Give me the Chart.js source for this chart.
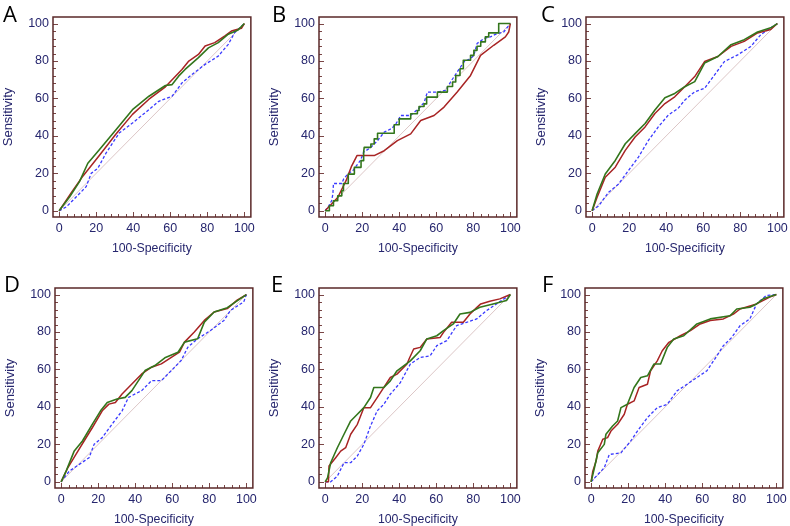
<!DOCTYPE html>
<html>
<head>
<meta charset="utf-8">
<script src="https://cdn.jsdelivr.net/npm/chart.js@4.4.1/dist/chart.umd.min.js"></script>
<style>
  body { margin: 0; background: #fff; width: 790px; height: 526px; overflow: hidden; position: relative; }
  canvas { position: absolute; }
  .lab { position: absolute; font-family: "Open Sans", sans-serif; font-size: 22px; line-height: 22px; color: #000; }
</style>
</head>
<body>
<script>
// tick labels shared by every panel
var tickValues = [0, 20, 40, 60, 80, 100];
var diagonal = [[0, 0], [100, 100]];

// panel A
var aGreen = [[0,0],[5.7,7.5],[11,15.6],[15.5,25.4],[21.7,32.6],[30.7,43.3],[39.6,54],[48.5,61.2],[57.4,66.9],[61,67.4],[64.5,71.9],[68,75.5],[75.2,81.8],[80.6,87],[85.9,89.8],[91.3,94.3],[96.6,96.6],[100,100]];
var aRed = [[0,0],[6.5,9.5],[12.8,18.5],[21.7,29.5],[30.7,41],[39.6,51.5],[48.5,59.6],[57.4,66.2],[66.3,75.5],[70,80],[75.2,83.5],[78.8,88],[84,89.8],[89.5,93.4],[93,96],[98.4,97.5],[100,100]];
var aBlue = [[0,0],[3.9,2.1],[9.3,7.5],[14.6,12.9],[17.3,20],[20.9,22.7],[25.3,30.8],[32.4,41.5],[39.6,46.9],[48.5,54],[53.8,58.5],[61,61.2],[66.3,68.3],[71.7,72.8],[78.8,78.2],[85.9,82.6],[91.3,88.9],[94.8,95.2],[100,100]];

// panel B
var bGreen = [[0,0],[2.3,0],[2.3,2.7],[4.5,2.7],[4.5,5.4],[6.8,5.4],[6.8,8],[9,8],[9,10.7],[9.9,10.7],[9.9,14.6],[12.5,14.6],[12.5,19.6],[15.8,19.6],[15.8,23.2],[19.4,23.2],[19.4,26.8],[20.8,26.8],[20.8,31.3],[21.1,33.9],[24.7,33.9],[24.7,35.7],[26.5,35.7],[26.5,38.4],[28.3,38.4],[28.3,41.4],[37.3,41.4],[37.3,46],[40,46],[40,49.1],[46.2,49.1],[46.2,51.8],[49.8,51.8],[49.8,53.6],[50.7,53.6],[50.7,55.7],[53.4,55.7],[53.4,57.1],[54.8,57.1],[54.8,60.7],[60.6,60.7],[60.6,63.4],[66,63.4],[66,66.4],[68.8,66.4],[68.8,68.8],[70.5,68.8],[70.5,72.3],[72.8,72.3],[72.8,75.9],[74.6,75.9],[74.6,80.4],[78.5,80.4],[78.5,83],[80.3,83],[80.3,85.7],[82,85.7],[82,87.9],[84,87.9],[84,90.2],[86.5,90.2],[86.5,92.9],[88.3,92.9],[88.3,95],[93.7,95],[93.7,100],[100,100]];
var bRed = [[0,0],[6.8,7.1],[11.3,16.1],[14.3,23.9],[17.2,29.5],[26.5,29.5],[31.9,32.1],[39,37.5],[46.2,41.1],[51.6,48.2],[58.8,50.9],[64.2,55.4],[71.3,63.4],[78.5,72.3],[83.9,83],[91,88.4],[97.3,92.9],[99.1,95.5],[100,100]];
var bBlue = [[0,0],[2,2.7],[3.5,5.4],[4.2,9],[4.5,14.6],[9,14.6],[10,17],[12.2,19.6],[15,21.5],[17.6,25],[19,26.8],[20.8,31.3],[24.7,33.9],[28.3,37.5],[31.9,42],[36,44],[38.2,46.4],[40.9,50.9],[46.2,50.9],[48,52.5],[51.6,55.7],[53.5,58],[55.2,63.4],[60.6,63.4],[65.1,64.3],[67.7,68.8],[71.3,74.1],[74.9,79.5],[78.5,81.3],[80.3,83],[82,89.3],[85.7,92],[89.2,92.9],[92.8,94.6],[96.4,95.5],[100,100]];

// panel C
var cGreen = [[0,0],[2.7,9],[7.1,19.7],[12.5,26.9],[17.9,35.8],[23.2,41.2],[28.6,46.6],[33.9,53.8],[39.3,60.4],[44.6,62.7],[50,66.3],[55.4,69],[60.7,78.9],[67.9,82.4],[75,88.7],[82.1,91.4],[89.3,95.5],[96.4,97.7],[100,100]];
var cRed = [[0,0],[2.7,7.2],[7.1,17.9],[12.5,23.3],[17.9,32.3],[23.2,39.4],[28.6,44.8],[33.9,52],[39.3,57.3],[44.6,60.9],[50,66.3],[55.4,71.7],[60.7,79.7],[67.9,82.4],[75,87.8],[82.1,90.5],[89.3,95],[96.4,96.8],[100,100]];
var cBlue = [[0,0],[3.6,2.7],[8.9,9.9],[14.3,14.3],[19.6,21.5],[25,28.7],[30.4,37.6],[35.7,44.8],[41.1,51.1],[46.4,54.7],[50,59.1],[55.4,63.6],[60.7,65.4],[66.1,72.6],[71.4,79.7],[78.6,83.3],[85.7,87.8],[91.1,94.1],[96.4,97.7],[100,100]];

// panel D
var dGreen = [[0,0],[2.7,5.7],[7.1,16.5],[11.5,21.8],[16.9,30.8],[21.3,37.9],[24.9,42.4],[30.2,44.2],[34.6,45.1],[38.2,48.7],[45.3,59.4],[50.6,62.1],[56,66.2],[63.1,69.2],[66.6,74.6],[73.7,76.4],[77.3,85.3],[82.6,90.7],[89.7,93],[95,96.6],[100,100]];
var dRed = [[0,0],[3.6,7.5],[8,14.7],[12.4,21.8],[16.9,29],[22.2,37.9],[25.8,41.5],[29.3,42.4],[32.9,46.9],[38.2,52.2],[43.5,57.6],[48.8,61.2],[54.1,63],[59.5,66.5],[63.9,69.2],[66.6,74.6],[71.9,80],[77.3,86.2],[82.6,90.7],[89.7,92.5],[95,97],[100,100]];
var dBlue = [[0,0],[4.4,5.7],[9.8,9.3],[15.1,12.9],[17.8,20],[22.2,23.6],[27.5,30.8],[32.9,37.9],[36.4,45.1],[43.5,48.7],[48.8,54],[54.1,54],[59.5,59.4],[64.8,64.8],[68.4,71.9],[73.7,76.4],[80.8,80.9],[87.9,86.2],[91.5,91.6],[98.6,96.1],[100,100]];

// panel E
var eGreen = [[0,0],[1.3,2.1],[3,10.2],[6.6,18.2],[10.2,25.4],[13.8,32.5],[17.4,36.1],[20.9,39.6],[24.5,45],[26.3,50.4],[31.7,50.4],[35.2,53.9],[38.8,59.3],[46,64.6],[51.3,70],[54.9,76.3],[60.3,78],[63.9,80.7],[69.2,84.3],[72.8,89.6],[78.2,90.5],[83.5,93.2],[90.7,95],[97.9,96.8],[100,100]];
var eRed = [[0,0],[1.8,0],[2.1,8.4],[5.7,12.9],[8.4,16.4],[11.1,18.2],[13.8,25.4],[17.4,30.7],[20.9,39.6],[24.5,39.6],[28.1,45],[31.7,50.4],[35.2,55.7],[38.8,57.5],[44.2,62.9],[45.5,66],[47.8,70.9],[51.3,71.8],[54.9,76.3],[62.1,77.1],[63.9,79.8],[68.3,85.2],[74.6,85.2],[78.2,89.6],[81.8,93],[84,95],[88.9,96.4],[94.3,97.7],[100,100]];
var eBlue = [[0,0],[3,0],[6.6,3],[10.2,10.2],[13.8,10.2],[17.4,13.8],[20.9,20],[24.5,29.8],[28.1,37.9],[31.7,41.4],[35.2,46.8],[40.6,53],[46,62.9],[51.3,66.4],[56.7,67.3],[60.3,72.7],[65.7,75.4],[71,83.4],[76.4,85.2],[81.8,87],[87.1,91.4],[92.5,95],[100,100]];

// panel F
var fGreen = [[0,0],[1.8,7.5],[3.6,15.5],[7.1,20],[8,25.4],[11.6,29.8],[14.3,32.5],[16.1,39.6],[19.6,41.4],[23.2,50.4],[26.8,55.7],[30.4,56.6],[33.9,62.9],[37.5,62.9],[41.1,71.8],[44.6,76.3],[50,78],[57.1,84.3],[64.3,87],[75,88.7],[78.6,92.3],[85.7,93.2],[89.3,95],[92.9,97.7],[100,100]];
var fRed = [[0,0],[0.9,5.7],[2.7,11.1],[3.6,16.4],[6.3,22.7],[8.9,23.6],[10.7,27.1],[14.3,30.7],[17.9,36.1],[19.6,41.4],[23.2,43.2],[25.9,50.4],[30.4,52.1],[32.1,59.3],[35.7,64.6],[38.4,70],[42,74.5],[48.2,78],[53.6,80.7],[58.9,84.3],[64.3,86.1],[71.4,87],[76.8,89.6],[80.4,92.3],[89.3,95],[96.4,98.6],[100,100]];
var fBlue = [[0,0],[3.6,3.9],[7.1,7.5],[9.8,14.6],[16.1,15.5],[21.4,21.8],[25,27.1],[30.4,34.3],[35.7,39.6],[41.1,41.4],[46.4,48.6],[51.8,52.1],[57.1,55.7],[62.5,59.3],[67.9,67.3],[71.4,72.7],[75.9,77.1],[80.4,83.4],[85.7,87],[89.3,95],[94.6,99.5],[100,100]];

var panels = [
  { name: 'A', left: 53,  top: 17,  green: aGreen, red: aRed, blue: aBlue },
  { name: 'B', left: 319, top: 17,  green: bGreen, red: bRed, blue: bBlue },
  { name: 'C', left: 586, top: 17,  green: cGreen, red: cRed, blue: cBlue },
  { name: 'D', left: 55,  top: 288, green: dGreen, red: dRed, blue: dBlue },
  { name: 'E', left: 319, top: 288, green: eGreen, red: eRed, blue: eBlue },
  { name: 'F', left: 585, top: 288, green: fGreen, red: fRed, blue: fBlue }
];

var letterPos = { A: [3, 2], B: [272, 2], C: [541, 2], D: [4, 272], E: [271, 272], F: [542, 272] };

var navy = '#26266e';

// frame and little inward ticks, like the original software draws them
var framePlugin = {
  id: 'frame',
  afterDatasetsDraw: function(chart) {
    var ctx = chart.ctx;
    var a = chart.chartArea;
    var xs = chart.scales.x;
    var ys = chart.scales.y;
    ctx.save();
    ctx.strokeStyle = '#7a4646';
    ctx.lineWidth = 1;
    for (var v = 0; v <= 100; v += 4) {
      var len = (v % 20 === 0) ? 5 : 3;
      var px = Math.round(xs.getPixelForValue(v)) + 0.5;
      ctx.beginPath();
      ctx.moveTo(px, a.bottom);
      ctx.lineTo(px, a.bottom - len);
      ctx.stroke();
      var py = Math.round(ys.getPixelForValue(v)) + 0.5;
      ctx.beginPath();
      ctx.moveTo(a.left, py);
      ctx.lineTo(a.left + len, py);
      ctx.stroke();
    }
    ctx.strokeStyle = '#5a2828';
    ctx.lineWidth = 1.5;
    ctx.strokeRect(a.left, a.top, a.right - a.left, a.bottom - a.top);
    ctx.restore();
  }
};

function toPoints(arr) {
  var out = [];
  for (var i = 0; i < arr.length; i++) {
    out.push({ x: arr[i][0], y: arr[i][1] });
  }
  return out;
}

function drawPanel(p) {
  var canvas = document.createElement('canvas');
  canvas.width = 259;
  canvas.height = 262;
  canvas.style.left = (p.left - 53) + 'px';
  canvas.style.top = (p.top - 17) + 'px';
  document.body.appendChild(canvas);

  var letter = document.createElement('div');
  letter.className = 'lab';
  letter.textContent = p.name;
  letter.style.left = letterPos[p.name][0] + 'px';
  letter.style.top = letterPos[p.name][1] + 'px';
  document.body.appendChild(letter);

  var tickFont = { family: '"Liberation Sans", Arial, sans-serif', size: 12.5 };
  var xTitleFont = { family: '"Liberation Sans", Arial, sans-serif', size: 12.3 };
  var yTitleFont = { family: '"Liberation Sans", Arial, sans-serif', size: 13 };

  new Chart(canvas, {
    type: 'scatter',
    data: {
      datasets: [
        { data: toPoints(p.green), borderColor: '#33761c', borderWidth: 1.6 },
        { data: toPoints(p.red), borderColor: '#a82424', borderWidth: 1.5 },
        { data: toPoints(p.blue), borderColor: '#3a3aff', borderWidth: 1.3, borderDash: [3, 2] },
        { data: toPoints(diagonal), borderColor: '#dcc6c6', borderWidth: 1 }
      ]
    },
    options: {
      responsive: false,
      animation: false,
      devicePixelRatio: 1,
      showLine: true,
      elements: {
        point: { radius: 0, hoverRadius: 0 },
        line: { tension: 0, fill: false, borderJoinStyle: 'round' }
      },
      layout: { padding: { left: 0, top: 17, right: 6, bottom: 0 } },
      plugins: { legend: { display: false }, tooltip: { enabled: false } },
      scales: {
        x: {
          type: 'linear',
          min: -3.3,
          max: 103.5,
          grid: { display: false, drawTicks: false },
          border: { display: false },
          afterBuildTicks: function(scale) {
            scale.ticks = tickValues.map(function(v) { return { value: v }; });
          },
          afterFit: function(scale) { scale.height = 45; },
          ticks: { color: navy, font: tickFont, padding: 4, maxRotation: 0 },
          title: { display: true, text: '100-Specificity', color: navy, font: xTitleFont, padding: { top: 0, bottom: 6 } }
        },
        y: {
          type: 'linear',
          min: -3.3,
          max: 103.5,
          grid: { display: false, drawTicks: false },
          border: { display: false },
          afterBuildTicks: function(scale) {
            scale.ticks = tickValues.map(function(v) { return { value: v }; });
          },
          afterFit: function(scale) { scale.width = 53; },
          ticks: { color: navy, font: tickFont, padding: 4 },
          title: { display: true, text: 'Sensitivity', color: navy, font: yTitleFont, padding: { top: 1, bottom: 0 } }
        }
      }
    },
    plugins: [framePlugin]
  });
}

for (var i = 0; i < panels.length; i++) {
  drawPanel(panels[i]);
}
</script>
</body>
</html>
